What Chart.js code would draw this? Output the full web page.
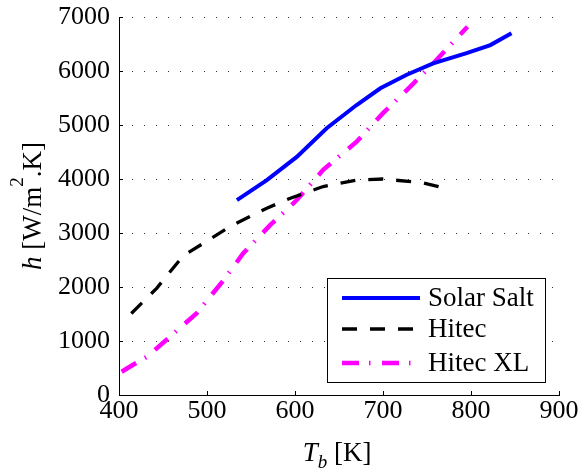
<!DOCTYPE html>
<html>
<head>
<meta charset="utf-8">
<script src="https://cdn.jsdelivr.net/npm/chart.js@4/dist/chart.umd.min.js"></script>
<style>
  html, body { margin: 0; padding: 0; background: #fff; }
  #wrap { width: 579px; height: 473px; }
</style>
</head>
<body>
<div id="wrap"><canvas id="myChart" width="579" height="473"></canvas></div>
<script>
// bulk temperature T_b [K] and heat transfer coefficient h [W/m2.K]
const solarT = [534, 568, 602, 636, 670, 697, 727, 757, 795, 822, 846];
const solarH = [3610, 3980, 4410, 4940, 5370, 5680, 5930, 6140, 6330, 6480, 6700];

const hitecT = [414, 443, 469, 477, 496, 526, 568, 594, 632, 670, 700, 745, 770];
const hitecH = [1510, 1980, 2500, 2620, 2810, 3120, 3460, 3640, 3860, 3980, 4000, 3930, 3830];

const xlT = [403, 416, 432, 458, 488, 519, 541, 572, 602, 632, 670, 700, 731, 757, 796];
const xlH = [430, 560, 710, 1080, 1510, 2130, 2620, 3150, 3610, 4170, 4690, 5220, 5710, 6140, 6820];

const seriesNames = ['Solar Salt', 'Hitec', 'Hitec XL'];
const xTicks = [400, 500, 600, 700, 800, 900];
const yTicks = [0, 1000, 2000, 3000, 4000, 5000, 6000, 7000];

const serif = '"Liberation Serif", "Times New Roman", serif';
Chart.defaults.color = '#000';
Chart.defaults.font.family = serif;

function toPoints(xs, ys) {
    return xs.map((x, i) => ({ x: x, y: ys[i] }));
}

// draws text made of runs (italic / sub / superscript) centred on x
function drawRuns(ctx, runs, x, y, size) {
    const fontOf = r => (r.it ? 'italic ' : '') + Math.round(size * (r.s || 1)) + 'px ' + serif;
    let total = 0;
    runs.forEach(r => { ctx.font = fontOf(r); total += ctx.measureText(r.t).width; });
    let cx = x - total / 2;
    runs.forEach(r => {
        ctx.font = fontOf(r);
        ctx.fillText(r.t, cx, y + (r.dy || 0) * size);
        cx += ctx.measureText(r.t).width;
    });
}

const extras = {
    id: 'extras',
    beforeDatasetsDraw(chart) {
        const ctx = chart.ctx;
        const xs = chart.scales.x, ys = chart.scales.y;
        const a = chart.chartArea;
        ctx.save();
        ctx.strokeStyle = '#000';
        ctx.lineWidth = 1;
        ctx.beginPath();
        // inward tick marks
        xTicks.forEach(v => {
            const px = Math.round(xs.getPixelForValue(v)) + 0.5;
            ctx.moveTo(px, a.bottom);
            ctx.lineTo(px, a.bottom - 4);
        });
        yTicks.forEach(v => {
            const py = Math.round(ys.getPixelForValue(v)) + 0.5;
            ctx.moveTo(a.left, py);
            ctx.lineTo(a.left + 4, py);
        });
        ctx.stroke();
        ctx.restore();
    },
    afterDraw(chart) {
        const ctx = chart.ctx;
        const a = chart.chartArea;
        ctx.save();
        ctx.fillStyle = '#000';
        ctx.textBaseline = 'alphabetic';
        ctx.textAlign = 'left';

        // x axis title
        drawRuns(ctx, [
            { t: 'T', it: true },
            { t: 'b', it: true, s: 0.72, dy: 0.27 },
            { t: ' [K]' }
        ], (a.left + a.right) / 2 - 2, 461, 27);

        // y axis title
        ctx.save();
        ctx.translate(41, (a.top + a.bottom) / 2);
        ctx.rotate(-Math.PI / 2);
        drawRuns(ctx, [
            { t: 'h', it: true },
            { t: ' [W/m' },
            { t: '2', s: 0.72, dy: -0.66 },
            { t: '.K]' }
        ], 0, 0, 27);
        ctx.restore();

        // legend box
        const bx = a.right - 232, by = a.bottom - 117, bw = 218, bh = 104;
        ctx.fillStyle = '#fff';
        ctx.fillRect(bx, by, bw, bh);
        ctx.strokeStyle = '#000';
        ctx.lineWidth = 1;
        ctx.strokeRect(bx + 0.5, by + 0.5, bw, bh);
        const rows = [20, 51, 85];
        chart.data.datasets.forEach((ds, i) => {
            const ry = by + rows[i];
            ctx.save();
            ctx.strokeStyle = ds.borderColor;
            ctx.lineWidth = ds.borderWidth;
            ctx.setLineDash(ds.borderDash || []);
            ctx.beginPath();
            ctx.moveTo(bx + 15, ry);
            ctx.lineTo(bx + 93, ry);
            ctx.stroke();
            ctx.restore();
            ctx.fillStyle = '#000';
            ctx.font = '27px ' + serif;
            ctx.textBaseline = 'middle';
            ctx.fillText(ds.label, bx + 101, ry + 1);
        });
        ctx.restore();
    }
};

const data = {
    datasets: [{
        label: seriesNames[0],
        data: toPoints(solarT, solarH),
        borderColor: '#0000ff',
        borderWidth: 4,
        borderDash: [],
    },
    {
        label: seriesNames[1],
        data: toPoints(hitecT, hitecH),
        borderColor: '#000000',
        borderWidth: 3.3,
        borderDash: [15, 13],
    },
    {
        label: seriesNames[2],
        data: toPoints(xlT, xlH),
        borderColor: '#ff00ff',
        borderWidth: 4.5,
        borderDash: [17, 10, 1.5, 11.5],
    }]
};

const config = {
    type: 'line',
    data: data,
    options: {
        responsive: false,
        animation: false,
        layout: { padding: { left: 0, top: 17, right: 20, bottom: 0 } },
        elements: {
            point: { radius: 0 },
            line: { tension: 0, fill: false, borderCapStyle: 'butt' }
        },
        plugins: {
            legend: { display: false },
            tooltip: { enabled: false }
        },
        scales: {
            x: {
                type: 'linear',
                min: 400,
                max: 900,
                ticks: { stepSize: 100, padding: 1, font: { size: 26 }, callback: v => String(v) },
                grid: { display: false, drawTicks: false },
                border: { display: true, color: '#000', width: 1 },
                afterFit: s => { s.height = 78; s.paddingLeft = 0; s.paddingRight = 0; }
            },
            y: {
                min: 0,
                max: 7000,
                ticks: { stepSize: 1000, padding: 9, font: { size: 26 }, callback: v => String(v) },
                grid: { color: '#333', lineWidth: 1, drawTicks: false },
                border: { display: true, color: '#000', width: 1, dash: [1, 11] },
                afterFit: s => { s.width = 119; s.paddingTop = 0; s.paddingBottom = 0; }
            }
        }
    },
    plugins: [extras]
};

const myChart = new Chart(document.getElementById('myChart'), config);
</script>
</body>
</html>
